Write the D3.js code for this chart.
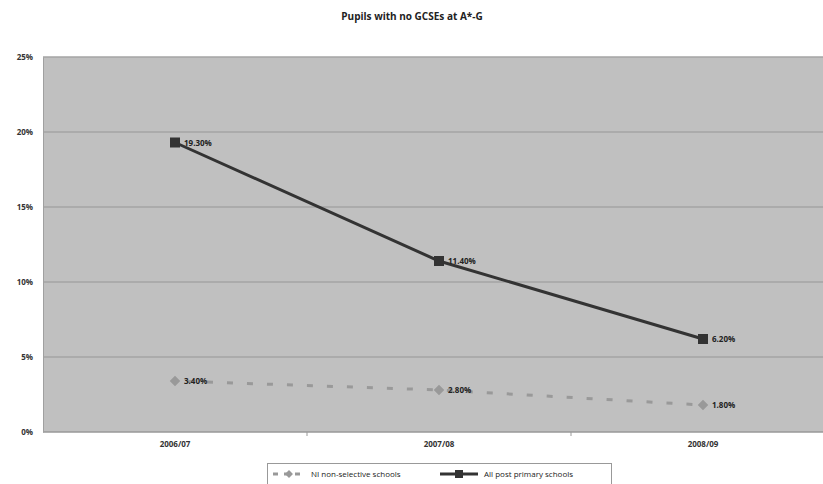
<!DOCTYPE html>
<html>
<head>
<meta charset="utf-8">
<script src="https://cdn.jsdelivr.net/npm/d3@7"></script>
<style>
  html, body { margin: 0; padding: 0; background: #fff; }
  svg { display: block; font-family: "Open Sans", "Liberation Sans", sans-serif; }
</style>
</head>
<body>
<svg id="chart" width="823" height="484"></svg>
<script>
// School years on the x axis
const years = ["2006/07", "2007/08", "2008/09"];
// Share of pupils leaving with no GCSEs at A*-G (percent)
const niNonSelective = [3.4, 2.8, 1.8];
const allPostPrimary = [19.3, 11.4, 6.2];
// Y axis ticks (percent)
const yTicks = [0, 5, 10, 15, 20, 25];

const seriesNames = ["NI non-selective schools", "All post primary schools"];

const svg = d3.select("#chart");
const W = 823, H = 484;
const plot = { left: 43, right: 835, top: 57, bottom: 432 };

const x = d3.scaleBand().domain(years).range([plot.left, plot.right]).padding(0);
const y = d3.scaleLinear().domain([0, 25]).range([plot.bottom, plot.top]);
const cx = d => x(d) + x.bandwidth() / 2;

// Title
svg.append("text")
  .attr("x", 412).attr("y", 20)
  .attr("text-anchor", "middle")
  .attr("font-size", 10).attr("font-weight", "bold").attr("fill", "#222")
  .text("Pupils with no GCSEs at A*-G");

// Plot background
svg.append("rect")
  .attr("x", plot.left).attr("y", plot.top)
  .attr("width", plot.right - plot.left).attr("height", plot.bottom - plot.top)
  .attr("fill", "#c0c0c0");

// Gridlines
svg.append("g").selectAll("line").data(yTicks).join("line")
  .attr("x1", plot.left).attr("x2", plot.right)
  .attr("y1", d => y(d)).attr("y2", d => y(d))
  .attr("stroke", d => d === 0 ? "#999" : "#a4a4a4").attr("stroke-width", 1.5);

// Y axis
const yAxis = d3.axisLeft(y).tickValues(yTicks).tickFormat(d => d + "%").tickSize(0).tickPadding(10);
const gy = svg.append("g").attr("transform", `translate(${plot.left},0)`).call(yAxis);
gy.select(".domain").attr("stroke", "#a0a0a0");
gy.selectAll("text").attr("font-size", 8).attr("font-weight", "bold").attr("fill", "#333")
  .attr("font-family", "'Open Sans', sans-serif");

// X axis
const xAxis = d3.axisBottom(x).tickSize(0).tickPadding(9);
const gx = svg.append("g").attr("transform", `translate(0,${plot.bottom})`).call(xAxis);
gx.select(".domain").remove();
gx.selectAll("text").attr("font-size", 8).attr("font-weight", "bold").attr("fill", "#333")
  .attr("font-family", "'Open Sans', sans-serif");
// Category separators
svg.append("g").selectAll("line").data(years.slice(1)).join("line")
  .attr("x1", d => x(d)).attr("x2", d => x(d))
  .attr("y1", plot.bottom).attr("y2", plot.bottom + 4)
  .attr("stroke", "#999");

const line = d3.line().x((d, i) => cx(years[i])).y(d => y(d));

// NI non-selective schools: dashed grey line with diamonds
svg.append("path").datum(niNonSelective)
  .attr("d", line).attr("fill", "none")
  .attr("stroke", "#999").attr("stroke-width", 3).attr("stroke-dasharray", "6,14")
  .attr("stroke-dashoffset", -12);
svg.append("g").selectAll("path").data(niNonSelective).join("path")
  .attr("d", d3.symbol(d3.symbolDiamond2, 70))
  .attr("transform", (d, i) => `translate(${cx(years[i])},${y(d)})`)
  .attr("fill", "#999");

// All post primary schools: solid dark line with squares
svg.append("path").datum(allPostPrimary)
  .attr("d", line).attr("fill", "none")
  .attr("stroke", "#333").attr("stroke-width", 3);
svg.append("g").selectAll("rect").data(allPostPrimary).join("rect")
  .attr("x", (d, i) => cx(years[i]) - 5).attr("y", d => y(d) - 5)
  .attr("width", 10).attr("height", 10).attr("fill", "#333");

// Value labels
const fmt = d => d.toFixed(2) + "%";
[niNonSelective, allPostPrimary].forEach(series => {
  svg.append("g").selectAll("text").data(series).join("text")
    .attr("x", (d, i) => cx(years[i]) + 9).attr("y", d => y(d) + 3)
    .attr("font-size", 8).attr("font-weight", "bold").attr("fill", "#222")
    .text(fmt);
});

// Legend
const lg = svg.append("g");
lg.append("rect").attr("x", 267.5).attr("y", 463.5).attr("width", 344).attr("height", 30)
  .attr("fill", "#fff").attr("stroke", "#999");
lg.append("line").attr("x1", 273).attr("x2", 303).attr("y1", 474).attr("y2", 474)
  .attr("stroke", "#999").attr("stroke-width", 3).attr("stroke-dasharray", "5,6");
lg.append("path").attr("d", d3.symbol(d3.symbolDiamond2, 40))
  .attr("transform", "translate(289,474)").attr("fill", "#999");
lg.append("text").attr("x", 311).attr("y", 477).attr("font-size", 8).attr("fill", "#222")
  .text(seriesNames[0]);
lg.append("line").attr("x1", 440).attr("x2", 478).attr("y1", 474).attr("y2", 474)
  .attr("stroke", "#333").attr("stroke-width", 3);
lg.append("rect").attr("x", 455).attr("y", 470).attr("width", 8).attr("height", 8).attr("fill", "#333");
lg.append("text").attr("x", 484).attr("y", 477).attr("font-size", 8).attr("fill", "#222")
  .text(seriesNames[1]);
</script>
</body>
</html>
